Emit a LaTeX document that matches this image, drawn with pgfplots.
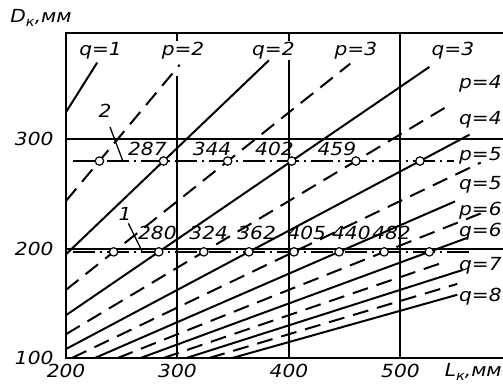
\documentclass[border=0pt]{standalone}
\usepackage{pgfplots}
\pgfplotsset{compat=1.18}
\usepackage{fontspec}
\setmainfont{DejaVu Sans}[FakeStretch=1.12]
\tikzset{
  sl/.style={black, line width=2pt},
  dl/.style={black, line width=2pt, dash pattern=on 16pt off 9pt},
  dd/.style={black, line width=1.6pt, dash pattern=on 22pt off 5pt on 2pt off 5pt},
  lab/.style={font=\fontsize{18}{20}\selectfont\itshape, inner sep=0pt},
}
\begin{document}
\begin{tikzpicture}
\useasboundingbox (-66pt,-30pt) rectangle (437pt,358pt);
\begin{axis}[
  scale only axis, width=437pt, height=325pt,
  xmin=200, xmax=592, ymin=100, ymax=397,
  axis line style={draw=none},
  xtick={200,300,400,500}, ytick={100,200,300},
  major tick length=0pt,
  tick label style={font=\fontsize{18}{20}\selectfont\itshape},
  /pgf/number format/assume math mode=true,
  xticklabel style={yshift=-3pt},
  yticklabel style={xshift=-9pt},
  clip=false,
]
% frame and grid
\addplot[sl] coordinates {(592,397) (200,397) (200,100) (592,100)};
\addplot[sl] coordinates {(300,100) (300,358)};
\addplot[sl] coordinates {(300,397) (300,390)};
\addplot[sl] coordinates {(400,100) (400,372)};
\addplot[sl] coordinates {(400,397) (400,390)};
\addplot[sl] coordinates {(500,100) (500,397)};
\addplot[sl] coordinates {(200,300) (592,300)};
\addplot[sl] coordinates {(200,200) (592,200)};
% q lines (solid)
\addplot[sl] coordinates {(200,324.7) (228,370)};
\addplot[sl] coordinates {(200,194.8) (382,372)};
\addplot[sl] coordinates {(200,139.1) (526,366)};
\addplot[sl] coordinates {(200,108.2) (562,304.1)};
\addplot[sl] coordinates {(225.9,100) (549,243.1)};
\addplot[sl] coordinates {(266.9,100) (560,209.8)};
\addplot[sl] coordinates {(308,100) (556,180.5)};
\addplot[sl] coordinates {(349.1,100) (551,157.8)};
% p lines (dashed)
\addplot[dl] coordinates {(200,243.5) (302,368)};
\addplot[dl] coordinates {(200,162.3) (455,369)};
\addplot[dl] coordinates {(200,121.75) (544,331.2)};
\addplot[dl] coordinates {(205.3,100) (572,278.6)};
\addplot[dl] coordinates {(246.4,100) (572,232.1)};
\addplot[dl] coordinates {(287.5,100) (540,187.9)};
\addplot[dl] coordinates {(328.5,100) (551,167.7)};
% dash-dot lines 1 and 2
\addplot[dd] coordinates {(206,280) (548,280)};
\addplot[dd] coordinates {(206,197) (562,197)};
% leaders
\addplot[black, line width=1.3pt] coordinates {(239.5,311) (251,280)};
\addplot[black, line width=1.3pt] coordinates {(256,223) (268,198)};
% circles
\addplot[only marks, mark=*, mark size=4.2pt, mark options={fill=white, draw=black, line width=1.2pt}]
  coordinates {(230,280) (287.5,280) (345,280) (402.5,280) (460,280) (517.5,280)};
\addplot[only marks, mark=*, mark size=4.2pt, mark options={fill=white, draw=black, line width=1.2pt}]
  coordinates {(242.7,197) (283.2,197) (323.6,197) (364.1,197) (404.5,197) (445,197) (485.4,197) (525.9,197)};
% labels
\node[lab] at (axis cs:235,326) {2};
\node[lab] at (axis cs:253,232) {1};
\node[lab] at (axis cs:273,291) {287};
\node[lab] at (axis cs:331,291) {344};
\node[lab] at (axis cs:387,291) {402};
\node[lab] at (axis cs:443,291) {459};
\node[lab] at (axis cs:282,214) {280};
\node[lab] at (axis cs:328,214) {324};
\node[lab] at (axis cs:371,214) {362};
\node[lab] at (axis cs:416,214) {405};
\node[lab] at (axis cs:456,214) {440};
\node[lab] at (axis cs:492,214) {482};
\node[lab] at (axis cs:231,381) {q=1};
\node[lab] at (axis cs:305,381) {p=2};
\node[lab] at (axis cs:386,381) {q=2};
\node[lab] at (axis cs:460,381) {p=3};
\node[lab] at (axis cs:547,381) {q=3};
\node[lab, anchor=east] at (axis cs:591,351) {p=4};
\node[lab, anchor=east] at (axis cs:591,318) {q=4};
\node[lab, anchor=east] at (axis cs:591,285) {p=5};
\node[lab, anchor=east] at (axis cs:591,258) {q=5};
\node[lab, anchor=east] at (axis cs:591,235) {p=6};
\node[lab, anchor=east] at (axis cs:591,215) {q=6};
\node[lab, anchor=east] at (axis cs:591,184) {q=7};
\node[lab, anchor=east] at (axis cs:591,156) {q=8};
\node[lab, anchor=east] at (axis cs:591,87) {L\raisebox{-4pt}{\fontsize{13}{13}\selectfont к},мм};
\node[lab, anchor=west] at (axis cs:150,411) {D\raisebox{-4pt}{\fontsize{13}{13}\selectfont к},мм};
\end{axis}
\end{tikzpicture}
\end{document}
